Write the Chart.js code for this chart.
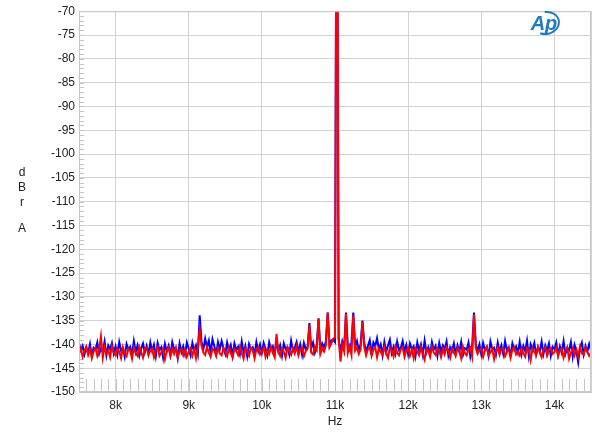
<!DOCTYPE html>
<html>
<head>
<meta charset="utf-8">
<script src="https://cdn.jsdelivr.net/npm/chart.js@4.4.1/dist/chart.umd.min.js"></script>
<style>
  body { margin: 0; background: #fff; }
  #wrap { width: 600px; height: 435px; }
</style>
</head>
<body>
<div id="wrap"><canvas id="chartFft"></canvas></div>
<script>
// FFT bins: 7.5 kHz .. 14.5 kHz, one bin every 25 Hz
const binStart = 7500;
const binStep = 25;

const xTicks = [7500, 8000, 9000, 10000, 11000, 12000, 13000, 14000, 14500];
const yMin = -150;
const yMax = -70;

// channel A (blue), 20 bins per row
const blueDb = [
    -139.8,-141.2,-140.3,-142.1,-140.6,-141.8,-139.9,-142.4,-140.7,-141.1,-139.6,-142.0,-140.9,-141.5,-139.4,-142.3,-140.2,-141.0,-139.7,-141.9,
    -140.4,-142.2,-139.5,-141.3,-140.8,-142.6,-139.9,-141.0,-140.5,-142.1,-139.3,-141.6,-140.2,-142.4,-140.9,-139.8,-141.7,-140.3,-142.0,-139.6,
    -141.4,-140.1,-142.5,-139.7,-141.2,-140.6,-142.8,-139.9,-141.5,-140.3,-142.2,-139.5,-141.0,-140.7,-142.9,-139.8,-141.6,-140.4,-142.1,-139.6,
    -140.9,-142.3,-139.7,-141.4,-140.2,-142.0,-133.9,-139.4,-141.1,-138.8,-140.6,-139.2,-141.8,-138.9,-140.4,-142.1,-139.5,-141.0,-139.3,-140.8,
    -142.0,-139.6,-141.3,-140.1,-142.4,-139.8,-141.2,-140.5,-142.1,-139.4,-141.7,-140.3,-142.5,-139.9,-141.0,-140.6,-142.2,-139.5,-141.4,-140.0,
    -141.8,-139.7,-140.9,-142.3,-139.6,-141.1,-140.4,-142.0,-139.3,-141.5,-140.2,-142.4,-139.8,-141.0,-140.6,-142.1,-139.2,-141.3,-140.7,-139.5,
    -141.6,-140.0,-142.2,-139.7,-141.1,-140.5,-135.5,-140.8,-139.6,-141.7,-140.3,-134.5,-141.2,-139.8,-140.7,-139.4,-133.3,-140.1,-139.2,-139.0,
    -139.5,-10.0,-139.0,-141.5,-139.4,-140.8,-133.3,-140.2,-141.1,-139.6,-133.3,-140.5,-139.3,-141.2,-140.0,-135.0,-139.7,-141.4,-140.3,-139.1,
    -141.9,-139.6,-140.4,-138.7,-141.1,-140.0,-142.3,-139.5,-141.6,-140.2,-139.0,-141.8,-140.5,-142.0,-139.4,-141.2,-140.7,-139.3,-141.5,-140.1,
    -142.1,-139.8,-141.0,-140.4,-142.5,-139.6,-141.3,-140.0,-142.2,-139.2,-141.7,-140.6,-142.0,-139.5,-141.1,-140.3,-142.4,-139.7,-141.5,-140.2,
    -141.0,-139.4,-142.3,-140.6,-141.4,-139.8,-142.0,-140.2,-141.6,-139.5,-142.2,-140.8,-141.1,-139.6,-142.5,-140.4,-133.3,-139.9,-141.3,-140.0,
    -142.1,-139.7,-141.2,-140.5,-142.4,-139.4,-141.0,-140.7,-142.2,-139.6,-141.5,-140.2,-142.0,-139.3,-141.3,-140.6,-142.3,-139.8,-141.1,-140.4,
    -141.8,-139.5,-142.1,-140.3,-141.4,-139.2,-142.5,-140.0,-141.1,-139.7,-142.2,-140.6,-141.5,-139.4,-142.0,-140.2,-141.3,-139.8,-142.4,-140.5,
    -141.0,-139.6,-142.2,-140.4,-141.7,-139.3,-142.0,-140.8,-141.2,-139.5,-142.6,-140.1,-141.4,-143.8,-140.7,-139.6,-142.1,-140.3,-141.5,-139.9,
    -141.3
];

// channel B (red)
const redDb = [
    -141.8,-140.9,-142.6,-141.3,-140.5,-142.2,-141.0,-142.9,-141.5,-140.7,-142.4,-141.1,-138.3,-142.8,-140.6,-141.9,-141.2,-142.7,-140.4,-141.7,
    -142.3,-140.8,-141.5,-142.9,-140.6,-141.9,-142.5,-140.9,-141.4,-143.0,-140.7,-141.8,-142.4,-140.5,-141.6,-142.8,-141.0,-140.6,-142.2,-141.3,
    -140.9,-142.7,-141.2,-140.5,-142.4,-141.7,-140.8,-143.1,-141.3,-140.6,-142.5,-141.0,-142.0,-140.7,-142.8,-141.4,-140.9,-142.3,-141.1,-142.6,
    -141.5,-140.8,-142.4,-141.0,-142.9,-140.6,-136.8,-140.3,-141.7,-142.2,-140.5,-141.8,-142.6,-140.9,-141.3,-142.4,-140.7,-141.9,-142.3,-140.8,
    -141.6,-142.5,-140.6,-141.9,-142.8,-140.9,-141.4,-142.2,-140.5,-141.8,-143.0,-140.8,-141.5,-142.4,-140.7,-141.2,-142.9,-141.0,-140.6,-142.1,
    -141.4,-140.7,-142.6,-141.1,-142.0,-140.5,-141.8,-142.7,-137.8,-141.3,-142.4,-140.9,-141.6,-142.8,-140.6,-141.5,-142.2,-140.8,-141.9,-140.4,
    -142.3,-141.0,-140.6,-142.5,-141.4,-140.9,-136.0,-141.7,-142.1,-140.5,-141.2,-134.6,-142.0,-140.8,-141.5,-140.3,-133.3,-140.6,-139.8,-138.9,
    -138.5,-10.0,-138.8,-143.6,-140.1,-141.5,-133.6,-141.8,-140.4,-142.2,-133.9,-141.3,-140.6,-142.0,-141.1,-135.3,-140.5,-142.3,-141.0,-140.6,
    -142.4,-141.1,-140.6,-142.7,-140.9,-141.6,-142.2,-140.5,-141.9,-142.8,-140.7,-141.3,-142.5,-140.4,-141.8,-142.3,-141.0,-140.6,-142.6,-141.2,
    -140.7,-142.4,-141.1,-142.9,-140.8,-141.5,-142.3,-140.6,-141.9,-143.2,-140.9,-141.4,-142.6,-140.5,-141.7,-142.2,-140.8,-141.3,-142.7,-141.0,
    -142.1,-140.6,-141.4,-142.8,-140.9,-141.7,-142.4,-140.7,-141.2,-142.9,-140.5,-141.8,-142.3,-141.0,-140.6,-142.5,-133.8,-140.8,-142.0,-141.3,
    -140.8,-142.6,-141.2,-140.5,-142.3,-141.7,-140.9,-143.1,-141.4,-140.6,-142.2,-141.0,-140.7,-142.5,-141.6,-140.9,-142.8,-141.1,-140.6,-142.1,
    -141.5,-142.3,-140.8,-141.9,-142.6,-140.7,-141.2,-143.3,-140.9,-141.6,-142.2,-140.5,-141.8,-142.7,-141.0,-140.6,-142.4,-141.3,-140.8,-142.0,
    -141.6,-140.7,-142.5,-141.2,-140.9,-142.8,-141.4,-140.6,-143.0,-141.7,-140.8,-142.3,-141.1,-142.6,-140.5,-141.9,-142.2,-140.7,-141.5,-142.4,
    -141.8
];

const toPoints = arr => arr.map((y, i) => ({ x: binStart + i * binStep, y: y }));

const FONT = '"Liberation Sans", Arial, sans-serif';
const GRID = '#d3d3d3';

// small ticks, axis letters, AP logo
const decor = {
    id: 'decor',
    beforeDatasetsDraw(chart) {
        const { ctx, chartArea: a, scales: { x, y } } = chart;
        ctx.save();
        ctx.strokeStyle = '#c4c4c4';
        ctx.lineWidth = 1;
        ctx.beginPath();
        for (let v = yMin + 1; v < yMax; v++) {
            const py = Math.round(y.getPixelForValue(v)) + 0.5;
            ctx.moveTo(a.left, py);
            ctx.lineTo(a.left + 5, py);
        }
        for (let f = 7600; f < 14500; f += 100) {
            const px = Math.round(x.getPixelForValue(f)) + 0.5;
            ctx.moveTo(px, a.bottom);
            ctx.lineTo(px, a.bottom - 13);
        }
        ctx.stroke();
        ctx.restore();
    },
    afterDraw(chart) {
        const { ctx, chartArea: a } = chart;
        ctx.save();
        // frame
        ctx.strokeStyle = '#c8c8c8';
        ctx.lineWidth = 1;
        ctx.strokeRect(a.left + 0.5, a.top + 0.5, a.right - a.left - 1, a.bottom - a.top - 1);

        ctx.fillStyle = '#222';
        ctx.font = '12px ' + FONT;
        ctx.textAlign = 'center';
        ctx.textBaseline = 'middle';
        ctx.fillText('d', 22, 173);
        ctx.fillText('B', 22, 188);
        ctx.fillText('r', 22, 203);
        ctx.fillText('A', 22, 229);
        ctx.fillText('Hz', (a.left + a.right) / 2, 422);

        // AP logo
        ctx.fillStyle = '#1f7bc0';
        ctx.strokeStyle = '#1f7bc0';
        ctx.font = 'italic bold 20px ' + FONT;
        ctx.textAlign = 'center';
        ctx.fillText('Ap', 544, 24);
        ctx.lineWidth = 2;
        ctx.beginPath();
        ctx.ellipse(546, 23, 13, 11, -0.2, -1.5, 2.2);
        ctx.stroke();
        ctx.restore();
    }
};

const configFft = {
    type: 'line',
    data: {
        datasets: [
            {
                data: toPoints(redDb),
                borderColor: '#ff0000',
                borderWidth: 2,
                pointRadius: 0,
                order: 1,
            },
            {
                data: toPoints(blueDb),
                borderColor: '#0000ff',
                borderWidth: 2,
                pointRadius: 0,
                order: 2,
            }
        ]
    },
    options: {
        responsive: true,
        maintainAspectRatio: false,
        animation: false,
        layout: { padding: { top: 10, right: 9, left: 0, bottom: 0 } },
        elements: { line: { tension: 0 } },
        scales: {
            x: {
                type: 'linear',
                min: 7500,
                max: 14500,
                afterBuildTicks: s => { s.ticks = xTicks.map(v => ({ value: v })); },
                afterFit: s => { s.height = 43; },
                grid: { color: GRID, drawTicks: false },
                border: { color: '#c8c8c8' },
                ticks: {
                    padding: 6,
                    color: '#222',
                    font: { size: 12, family: FONT },
                    maxRotation: 0,
                    callback: v => (v % 1000 === 0 ? (v / 1000) + 'k' : '')
                }
            },
            y: {
                min: yMin,
                max: yMax,
                afterFit: s => { s.width = 79; },
                grid: { color: GRID, drawTicks: false },
                border: { color: '#c8c8c8' },
                ticks: {
                    stepSize: 5,
                    padding: 4,
                    color: '#222',
                    font: { size: 12, family: FONT }
                }
            }
        },
        plugins: {
            legend: { display: false },
            tooltip: { enabled: false }
        }
    },
    plugins: [decor]
};

var chartFft = new Chart(document.getElementById('chartFft'), configFft);
</script>
</body>
</html>
